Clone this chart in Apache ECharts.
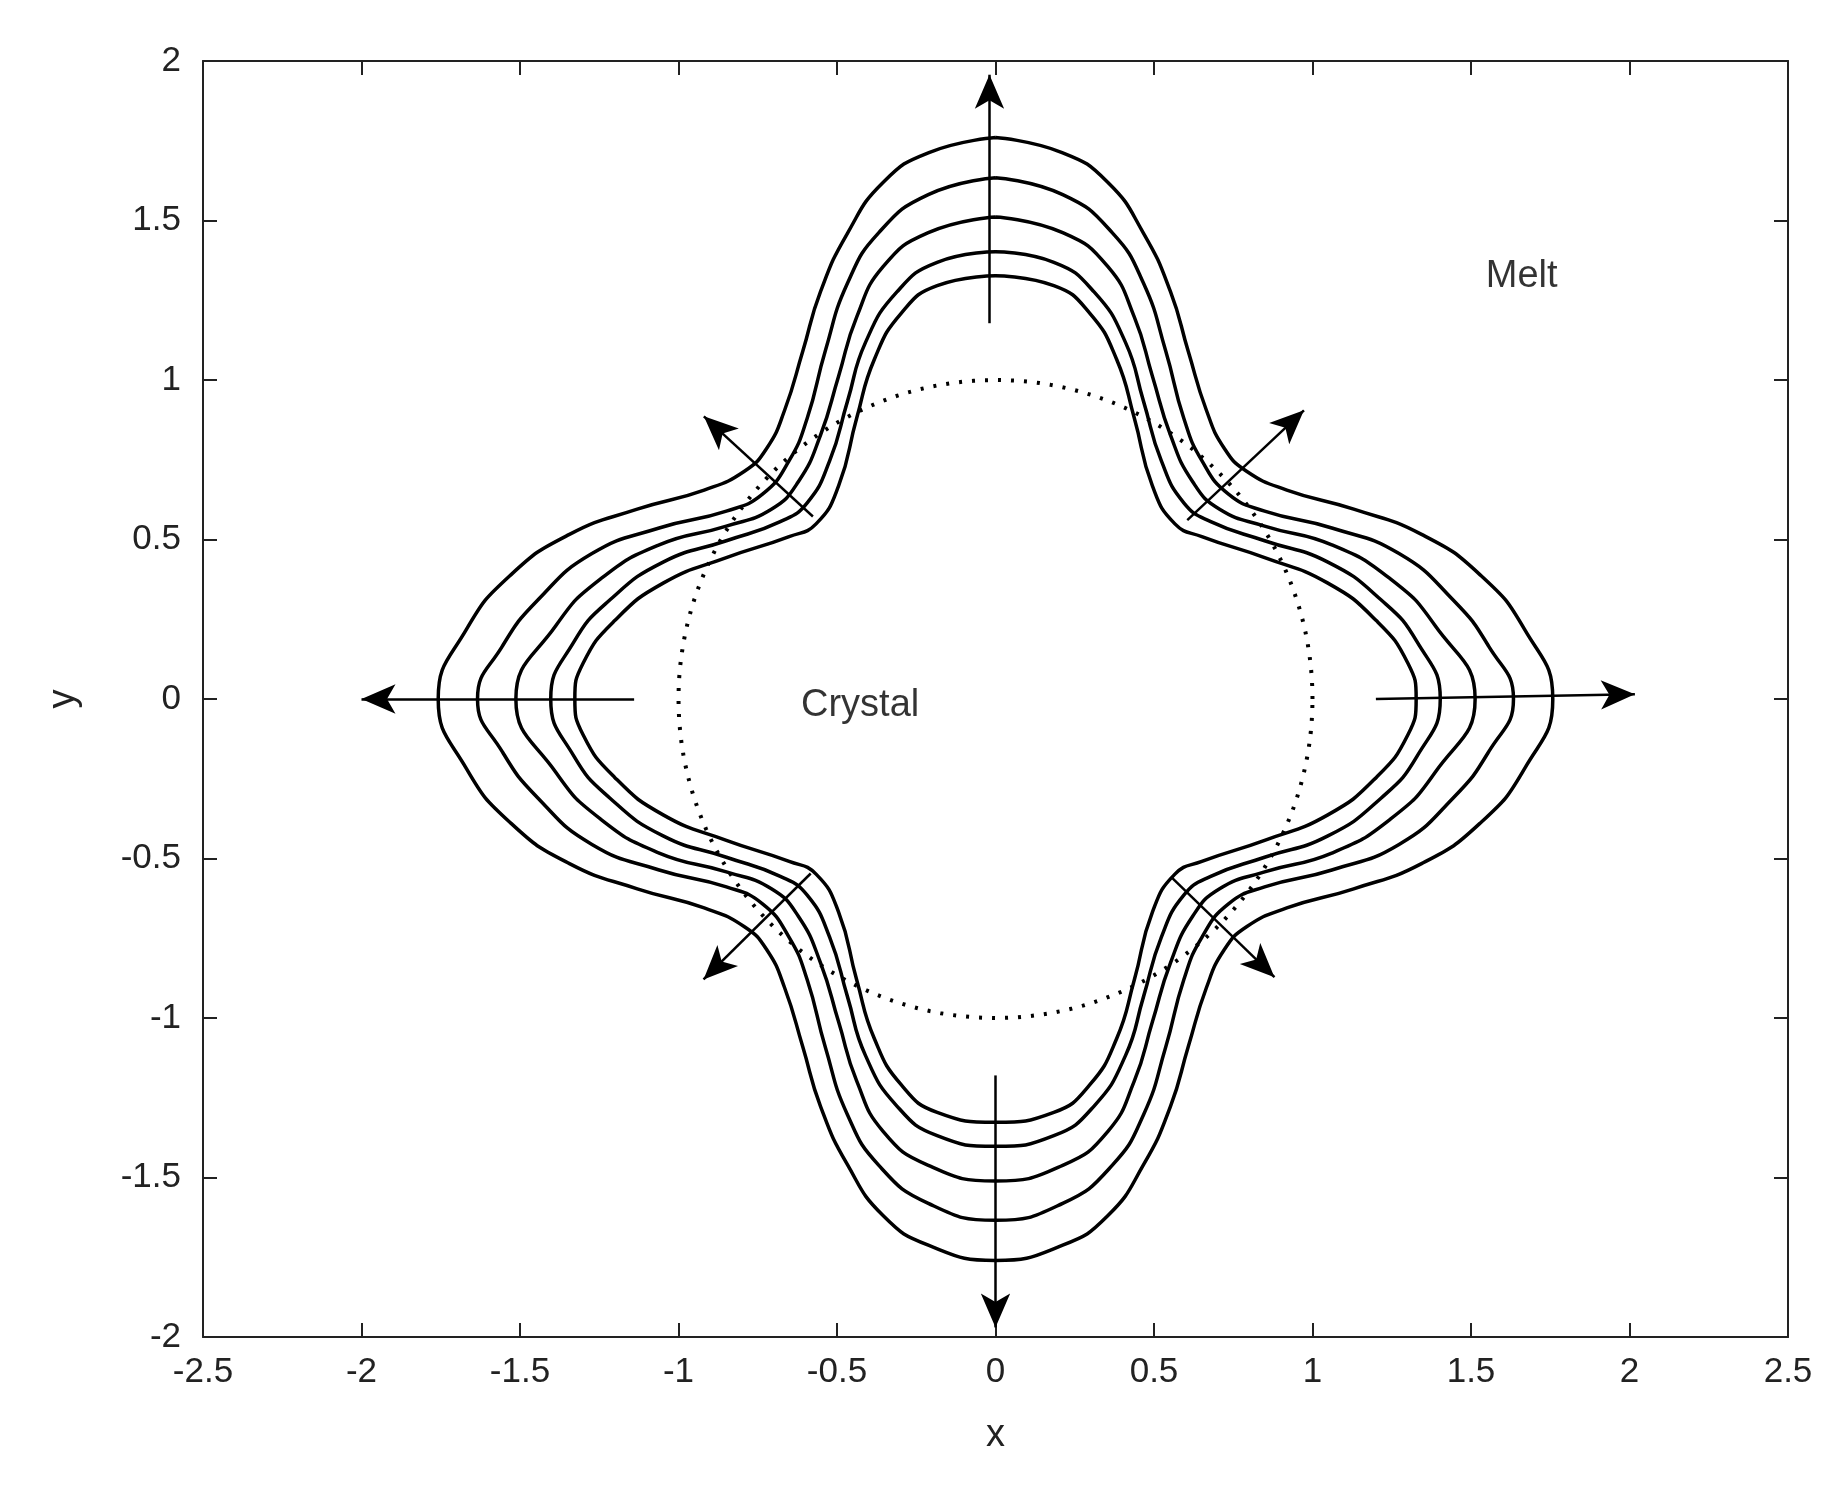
<!DOCTYPE html>
<html><head><meta charset="utf-8">
<script src="https://cdn.jsdelivr.net/npm/echarts@6/dist/echarts.min.js"></script>
<style>html,body{margin:0;background:#fff}#c{width:1838px;height:1502px}</style>
</head><body><div id="c"></div>
<script>
// first-quadrant points of each interface (x, y)
const curve1 = [[0,1.76],[0.21,1.713],[0.354,1.62],[0.467,1.46],[0.552,1.277],[0.608,1.09],[0.665,0.906],[0.721,0.787],[0.792,0.714],[0.919,0.655],[1.13,0.595],[1.344,0.516],[1.528,0.39],[1.669,0.218],[1.758,0]];
const curve2 = [[0,1.634],[0.212,1.581],[0.368,1.462],[0.467,1.303],[0.537,1.091],[0.594,0.88],[0.651,0.747],[0.735,0.642],[0.849,0.589],[1.061,0.536],[1.273,0.456],[1.443,0.311],[1.556,0.165],[1.634,0]];
const curve3 = [[0,1.511],[0.212,1.462],[0.354,1.356],[0.438,1.197],[0.495,1.012],[0.552,0.827],[0.622,0.681],[0.707,0.595],[0.849,0.542],[1.061,0.483],[1.245,0.377],[1.386,0.231],[1.513,0]];
const curve4 = [[0,1.402],[0.184,1.369],[0.311,1.276],[0.41,1.118],[0.467,0.933],[0.523,0.747],[0.594,0.615],[0.679,0.556],[0.849,0.496],[1.047,0.43],[1.216,0.311],[1.33,0.179],[1.403,0]];
const curve5 = [[0,1.327],[0.184,1.296],[0.297,1.21],[0.382,1.065],[0.438,0.88],[0.495,0.668],[0.566,0.549],[0.651,0.509],[0.849,0.443],[1.047,0.364],[1.202,0.245],[1.301,0.112],[1.327,0]];
const circleRadius = 1;
// arrows: [tail, tip]
const arrows = [
 [[-0.019,1.178],[-0.019,1.957]], [[0,-1.18],[0,-1.97]],
 [[-1.14,0],[-2.0,0]], [[1.2,0],[2.017,0.015]],
 [[0.605,0.561],[0.973,0.905]], [[-0.576,0.572],[-0.92,0.886]],
 [[-0.583,-0.547],[-0.921,-0.879]], [[0.557,-0.561],[0.88,-0.872]]
];
const labels = [{name:'Melt',x:1.66,y:1.325},{name:'Crystal',x:-0.427,y:-0.02}];
const xTicks = {min:-2.5,max:2.5,interval:0.5};
const yTicks = {min:-2,max:2,interval:0.5};

function closed(q){
  const pts = q.slice();                                   // Q1: from top to right
  for(let i=q.length-2;i>=0;i--) pts.push([q[i][0],-q[i][1]]); // Q4
  for(let i=1;i<q.length;i++) pts.push([-q[i][0],-q[i][1]]);    // Q3
  for(let i=q.length-2;i>=0;i--) pts.push([-q[i][0],q[i][1]]);  // Q2
  return pts;
}
const circ=[];
for(let a=0;a<=360;a+=2){const t=a*Math.PI/180;circ.push([circleRadius*Math.cos(t),circleRadius*Math.sin(t)]);}

const font={fontFamily:'Liberation Sans, Arial, sans-serif',fontSize:35,color:'#222'};
const axisLine={lineStyle:{color:'#222',width:2}};
const series=[curve1,curve2,curve3,curve4,curve5].map(q=>({
  type:'line',data:closed(q),smooth:0.5,showSymbol:false,symbol:'none',
  lineStyle:{color:'#000',width:3.5},z:3
}));
series.push({type:'line',data:circ,showSymbol:false,symbol:'none',lineStyle:{color:'#000',width:4,type:[3,10]},z:2});
series.push({type:'line',data:[],markLine:{silent:true,symbol:['none','arrow'],symbolSize:[22,34],
  lineStyle:{color:'#000',width:2.5,type:'solid'},label:{show:false},
  data:arrows.map(a=>[{coord:a[0]},{coord:a[1]}])}});
series.push({type:'scatter',symbolSize:0,data:labels.map(l=>({name:l.name,value:[l.x,l.y]})),
  label:{show:true,position:'inside',formatter:'{b}',fontFamily:font.fontFamily,fontSize:38,color:'#000'}});

const chart=echarts.init(document.getElementById('c'));
chart.setOption({
  animation:false,backgroundColor:'#fff',
  grid:{left:203,right:50,top:61,bottom:165},
  xAxis:[
   {type:'value',...xTicks,axisLine:{...axisLine,onZero:false},axisTick:{inside:true,length:14,lineStyle:{color:'#222',width:2}},
    axisLabel:{...font,margin:18},splitLine:{show:false},name:'x',nameLocation:'middle',nameGap:80,nameTextStyle:{...font,fontSize:38}},
   {type:'value',position:'top',...xTicks,axisLine:{...axisLine,onZero:false},axisTick:{inside:true,length:14,lineStyle:{color:'#222',width:2}},axisLabel:{show:false},splitLine:{show:false}}
  ],
  yAxis:[
   {type:'value',...yTicks,axisLine:{...axisLine,onZero:false},axisTick:{inside:true,length:14,lineStyle:{color:'#222',width:2}},
    axisLabel:{...font,margin:22},splitLine:{show:false},name:'y',nameLocation:'middle',nameGap:120,nameTextStyle:{...font,fontSize:38}},
   {type:'value',position:'right',...yTicks,axisLine:{...axisLine,onZero:false},axisTick:{inside:true,length:14,lineStyle:{color:'#222',width:2}},axisLabel:{show:false},splitLine:{show:false}}
  ],
  series
});
</script></body></html>
